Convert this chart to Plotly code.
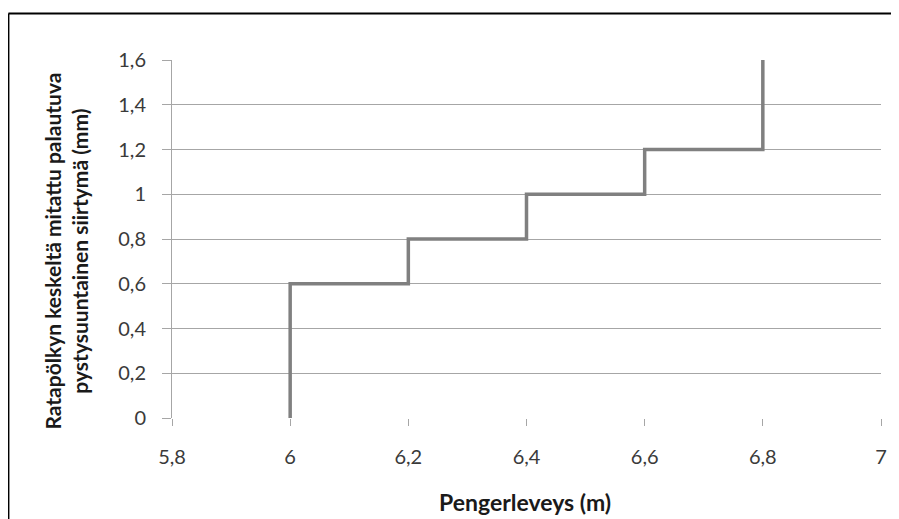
import plotly.graph_objects as go

# Data (step line: horizontal then vertical)
pengerleveys = [6.0, 6.0, 6.2, 6.4, 6.6, 6.8]
siirtyma = [0.0, 0.6, 0.8, 1.0, 1.2, 1.6]

x_tickvals = [5.8, 6.0, 6.2, 6.4, 6.6, 6.8, 7.0]
x_ticktext = ["5,8", "6", "6,2", "6,4", "6,6", "6,8", "7"]
y_tickvals = [0, 0.2, 0.4, 0.6, 0.8, 1.0, 1.2, 1.4, 1.6]
y_ticktext = ["0", "0,2", "0,4", "0,6", "0,8", "1", "1,2", "1,4", "1,6"]

x_title = "Pengerleveys (m)"
y_title = "Ratapölkyn keskeltä mitattu palautuva<br>pystysuuntainen siirtymä (mm)"

OFF = 8  # page body margin offset
W, H = 899 - OFF, 519 - OFF
L, T = 172 - OFF, 60 - OFF
plot_right, plot_bottom = 885 - OFF, 418 - OFF
R, B = W - plot_right, H - plot_bottom
pw, ph = plot_right - L, plot_bottom - T

def px_to_paper_x(px):
    return (px - OFF - L) / pw

def px_to_paper_y(py):
    return (plot_bottom - (py - OFF)) / ph

fig = go.Figure()
fig.add_trace(go.Scatter(
    x=pengerleveys, y=siirtyma, mode="lines", line_shape="hv",
    line=dict(color="#808080", width=3.5), showlegend=False, hoverinfo="skip",
))

font_family = "Lato, 'Open Sans', sans-serif"
grid_col = "#a6a6a6"

fig.update_layout(
    width=W, height=H,
    margin=dict(l=L, r=R, t=T, b=B, pad=0),
    paper_bgcolor="white", plot_bgcolor="white",
    font=dict(family=font_family, size=20, color="#3a3a3a"),
    xaxis=dict(
        range=[5.8, 7.0], tickvals=x_tickvals, ticktext=x_ticktext,
        showgrid=False, zeroline=False, showline=False,
        ticks="outside", ticklen=7, tickcolor=grid_col, tickwidth=1,
        ticklabelstandoff=14, tickfont=dict(size=20, color="#3a3a3a"),
    ),
    yaxis=dict(
        range=[0, 1.6], tickvals=y_tickvals, ticktext=y_ticktext,
        showgrid=True, gridcolor=grid_col, gridwidth=1,
        zeroline=False, showline=True, linecolor=grid_col, linewidth=1,
        ticks="outside", ticklen=9, tickcolor=grid_col, tickwidth=1,
        ticklabelstandoff=12, tickfont=dict(size=20, color="#3a3a3a"),
    ),
    annotations=[
        dict(text=y_title, xref="paper", yref="paper",
             x=px_to_paper_x(65), y=px_to_paper_y(251),
             xanchor="center", yanchor="middle", textangle=-90, showarrow=False,
             font=dict(family=font_family, size=21, color="#1a1a1a", weight="bold")),
        dict(text=x_title, xref="paper", yref="paper",
             x=px_to_paper_x(527), y=px_to_paper_y(502),
             xanchor="center", yanchor="middle", showarrow=False,
             font=dict(family=font_family, size=23, color="#1a1a1a", weight="bold")),
    ],
    shapes=[
        dict(type="line", xref="paper", yref="paper",
             x0=px_to_paper_x(7.5), x1=px_to_paper_x(7.5),
             y0=px_to_paper_y(13.5), y1=px_to_paper_y(530),
             line=dict(color="black", width=2)),
        dict(type="line", xref="paper", yref="paper",
             x0=px_to_paper_x(7.5), x1=px_to_paper_x(910),
             y0=px_to_paper_y(13.5), y1=px_to_paper_y(13.5),
             line=dict(color="black", width=2)),
    ],
)

fig.write_html("out.html")
